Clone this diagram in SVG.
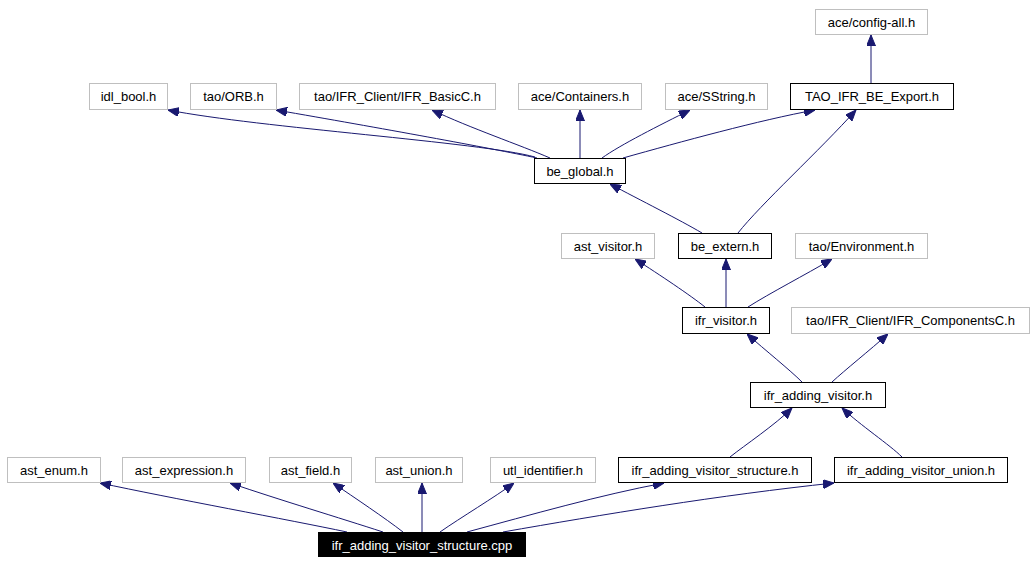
<svg xmlns="http://www.w3.org/2000/svg" width="1036" height="564" viewBox="0 0 1036 564">
<style>
.n rect{fill:#fff;stroke:#000;stroke-width:1}
.g rect{stroke:#bfbfbf}
.n text{font-family:"Liberation Sans",Arial,sans-serif;font-size:13px;text-anchor:middle;fill:#000}
.root rect{fill:#000;stroke:#000}
.root text{fill:#fff}
#edges path{fill:none;stroke:#191970;stroke-width:1;marker-end:url(#ah)}
</style>
<defs>
<marker id="ah" viewBox="0 0 11 9" markerWidth="11" markerHeight="9" refX="11" refY="4.5" orient="auto" markerUnits="userSpaceOnUse">
<path d="M0,0 L11,4.5 L0,9 z" fill="#191970" stroke="#191970" stroke-width="1"/>
</marker>
</defs>
<rect width="1036" height="564" fill="#fff"/>
<g id="edges">
<path d="M535,157 C480,142 260,128 168,110"/>
<path d="M537,158 C490,148 380,128 276,110"/>
<path d="M550,158 C520,145 470,128 432,110"/>
<path d="M580,158 L580,110"/>
<path d="M602,158 C620,145 660,125 690,110"/>
<path d="M623,158 C680,142 760,120 815,110"/>
<path d="M871,83 L871,35"/>
<path d="M702,233 C680,220 640,200 610,184"/>
<path d="M738,233 C760,205 820,150 856,110"/>
<path d="M705,307 C690,295 660,275 635,259"/>
<path d="M726,307 L726,259"/>
<path d="M748,307 C770,293 805,275 832,259"/>
<path d="M802,382 C790,370 765,350 747,334"/>
<path d="M832,382 C845,370 870,350 888,334"/>
<path d="M730,457 C745,445 775,425 792,408"/>
<path d="M902,457 C890,445 860,425 842,408"/>
<path d="M347,532 C290,520 170,498 100,483"/>
<path d="M383,532 C340,518 280,500 230,483"/>
<path d="M403,532 C385,518 355,498 333,483"/>
<path d="M422,532 L422,483"/>
<path d="M440,532 C460,518 495,497 514,483"/>
<path d="M467,532 C530,515 600,495 664,483"/>
<path d="M503,532 C600,515 720,495 834,483"/>
</g>
<g id="n_config_all" class="n g"><rect x="815.5" y="9.5" width="112" height="25"/><text x="871.5" y="27">ace/config-all.h</text></g>
<g id="n_idl_bool" class="n g"><rect x="89.5" y="83.5" width="78" height="26"/><text x="128.5" y="101">idl_bool.h</text></g>
<g id="n_tao_orb" class="n g"><rect x="190.5" y="83.5" width="86" height="26"/><text x="233.5" y="101">tao/ORB.h</text></g>
<g id="n_ifr_basicc" class="n g"><rect x="299.5" y="83.5" width="196" height="26"/><text x="397.5" y="101">tao/IFR_Client/IFR_BasicC.h</text></g>
<g id="n_containers" class="n g"><rect x="518.5" y="83.5" width="123" height="26"/><text x="580" y="101">ace/Containers.h</text></g>
<g id="n_sstring" class="n g"><rect x="665.5" y="83.5" width="102" height="26"/><text x="716.5" y="101">ace/SString.h</text></g>
<g id="n_tao_ifr_be_export" class="n"><rect x="790.5" y="83.5" width="163" height="26"/><text x="872" y="101">TAO_IFR_BE_Export.h</text></g>
<g id="n_be_global" class="n"><rect x="534.5" y="158.5" width="91" height="25"/><text x="580" y="176">be_global.h</text></g>
<g id="n_ast_visitor" class="n g"><rect x="561.5" y="233.5" width="93" height="25"/><text x="608" y="251">ast_visitor.h</text></g>
<g id="n_be_extern" class="n"><rect x="678.5" y="233.5" width="93" height="25"/><text x="725" y="251">be_extern.h</text></g>
<g id="n_environment" class="n g"><rect x="795.5" y="233.5" width="132" height="25"/><text x="861.5" y="251">tao/Environment.h</text></g>
<g id="n_ifr_visitor" class="n"><rect x="682.5" y="307.5" width="87" height="26"/><text x="726" y="325">ifr_visitor.h</text></g>
<g id="n_componentsc" class="n g"><rect x="791.5" y="307.5" width="238" height="26"/><text x="910.5" y="325">tao/IFR_Client/IFR_ComponentsC.h</text></g>
<g id="n_ifr_adding_visitor" class="n"><rect x="750.5" y="382.5" width="135" height="25"/><text x="818" y="400">ifr_adding_visitor.h</text></g>
<g id="n_ast_enum" class="n g"><rect x="7.5" y="457.5" width="93" height="25"/><text x="54" y="475">ast_enum.h</text></g>
<g id="n_ast_expression" class="n g"><rect x="122.5" y="457.5" width="123" height="25"/><text x="184" y="475">ast_expression.h</text></g>
<g id="n_ast_field" class="n g"><rect x="269.5" y="457.5" width="82" height="25"/><text x="310.5" y="475">ast_field.h</text></g>
<g id="n_ast_union" class="n g"><rect x="375.5" y="457.5" width="87" height="25"/><text x="419" y="475">ast_union.h</text></g>
<g id="n_utl_identifier" class="n g"><rect x="490.5" y="457.5" width="105" height="25"/><text x="543" y="475">utl_identifier.h</text></g>
<g id="n_ifr_adding_visitor_structure_h" class="n"><rect x="618.5" y="457.5" width="193" height="25"/><text x="715" y="475">ifr_adding_visitor_structure.h</text></g>
<g id="n_ifr_adding_visitor_union_h" class="n"><rect x="834.5" y="457.5" width="173" height="25"/><text x="921" y="475">ifr_adding_visitor_union.h</text></g>
<g id="n_root" class="n root"><rect x="318.5" y="532.5" width="207" height="24"/><text x="422" y="550">ifr_adding_visitor_structure.cpp</text></g>
</svg>
